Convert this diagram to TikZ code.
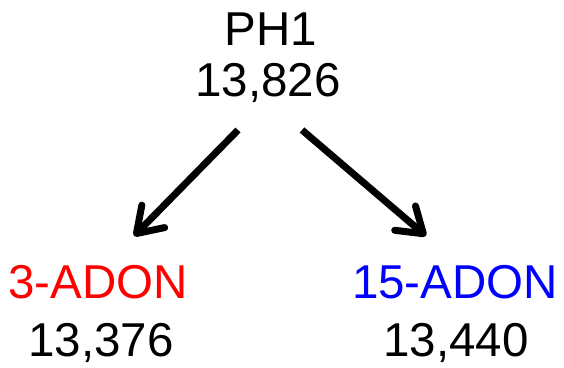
\documentclass[tikz,border=0pt]{standalone}
\usepackage{fontspec}
\setmainfont{Liberation Sans}
\usetikzlibrary{arrows.meta}
\definecolor{myred}{RGB}{255,0,0}
\definecolor{myblue}{RGB}{0,0,255}
\begin{document}
\begin{tikzpicture}[x=1pt,y=-1pt,
  lbl/.style={anchor=base,inner sep=0pt,font=\fontsize{47.5}{52}\selectfont},
  arr/.style={line width=7pt,-{Straight Barb[length=24pt,width=32pt,round]}}]
\useasboundingbox (0,0) rectangle (564,367);
\node[lbl] (ph1) at (271,45) {PH1};
\node[lbl] (ph1n) at (268,96) {13,826};
\node[lbl,text=myred] (adon3) at (98,298) {3-ADON};
\node[lbl] (adon3n) at (101,356) {13,376};
\node[lbl,text=myblue] (adon15) at (455,298) {15-ADON};
\node[lbl] (adon15n) at (456,356) {13,440};
\coordinate (ls) at (238,130);
\coordinate (le) at (134,236);
\coordinate (rs) at (302,130);
\coordinate (re) at (426,236);
\draw[arr] (ls) -- (le);
\draw[arr] (rs) -- (re);
\end{tikzpicture}
\end{document}
